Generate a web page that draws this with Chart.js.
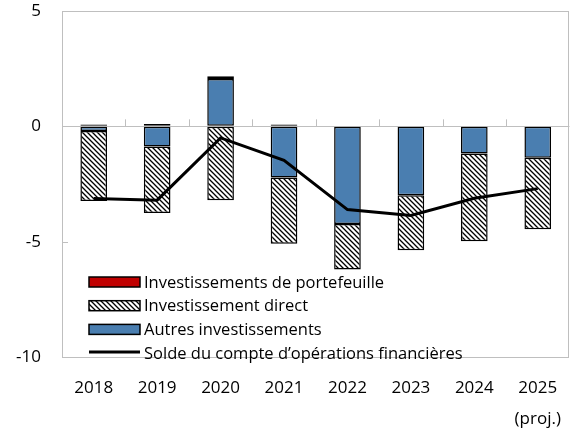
<!DOCTYPE html>
<html lang="fr">
  <head>
    <meta charset="UTF-8" />
    <title>Compte d'opérations financières</title>
    <script src="https://cdn.jsdelivr.net/npm/chart.js"></script>
    <style>
      body { margin: 0; background: #fff; }
      #wrap { width: 577px; height: 429px; }
    </style>
  </head>
  <body>
    <div id="wrap"><canvas id="chart"></canvas></div>
    <script>
      // données
      const years = ["2018", "2019", "2020", "2021", "2022", "2023", "2024", ["2025", "(proj.)"]];
      const portefeuille = [0.08, 0.1, 0.12, 0.08, 0.03, 0.03, 0.03, 0.03];
      const direct = [-3.04, -2.89, -3.2, -2.87, -1.98, -2.38, -3.8, -3.1];
      const autres = [-0.2, -0.87, 2.05, -2.22, -4.23, -2.99, -1.18, -1.36];
      const solde = [-3.13, -3.2, -0.5, -1.47, -3.61, -3.86, -3.12, -2.7];
      const yTicks = [5, 0, -5, -10];

      const FONT = "'Open Sans', 'Noto Sans', sans-serif";
      const GREY = "#bfbfbf";

      // motif hachuré pour l'investissement direct
      function hatch() {
        const c = document.createElement("canvas");
        c.width = 5;
        c.height = 5;
        const g = c.getContext("2d");
        g.fillStyle = "#fff";
        g.fillRect(0, 0, 5, 5);
        g.strokeStyle = "#000";
        g.lineWidth = 1.3;
        g.beginPath();
        g.moveTo(-1, -1); g.lineTo(6, 6);
        g.moveTo(-1, 4); g.lineTo(1, 6);
        g.moveTo(4, -1); g.lineTo(6, 1);
        g.stroke();
        return g.createPattern(c, "repeat");
      }
      const hatchPattern = hatch();

      const frame = {
        id: "frame",
        beforeDatasetsDraw(chart) {
          const { ctx, chartArea: a, scales } = chart;
          const y0 = scales.y.getPixelForValue(0);
          ctx.save();
          ctx.strokeStyle = GREY;
          ctx.lineWidth = 1;
          // petites graduations sur l'axe des catégories
          ctx.beginPath();
          for (let i = 1; i < years.length; i++) {
            const x = Math.round((scales.x.getPixelForValue(i - 1) + scales.x.getPixelForValue(i)) / 2) + 0.5;
            ctx.moveTo(x, y0);
            ctx.lineTo(x, y0 - 7);
          }
          yTicks.forEach(v => {
            const y = Math.round(scales.y.getPixelForValue(v)) + 0.5;
            ctx.moveTo(a.left, y);
            ctx.lineTo(a.left + 6, y);
          });
          ctx.stroke();
          ctx.restore();
        },
        afterDraw(chart) {
          const { ctx, chartArea: a } = chart;
          ctx.save();
          ctx.strokeStyle = GREY;
          ctx.lineWidth = 1;
          ctx.strokeRect(Math.round(a.left) + 0.5, Math.round(a.top) + 0.5, Math.round(a.right - a.left) - 1, Math.round(a.bottom - a.top));
          ctx.restore();
          // légende dans la zone du graphique : portefeuille, direct, autres, solde
          const ds = chart.data.datasets;
          const order = [2, 1, 0, 3];
          const bx = a.left + 27, bw = 51, tx = a.left + 82;
          let cy = a.top + 271;
          ctx.save();
          ctx.font = "16.5px " + FONT;
          ctx.textBaseline = "middle";
          order.forEach(i => {
            const d = ds[i];
            if (d.type === "line") {
              ctx.strokeStyle = "#000";
              ctx.lineWidth = 3;
              ctx.beginPath();
              ctx.moveTo(bx, cy - 1);
              ctx.lineTo(bx + bw, cy - 1);
              ctx.stroke();
            } else {
              ctx.fillStyle = d.backgroundColor;
              ctx.fillRect(bx, cy - 5, bw, 10);
              ctx.strokeStyle = "#000";
              ctx.lineWidth = 1.5;
              ctx.strokeRect(bx, cy - 5, bw, 10);
            }
            ctx.fillStyle = "#000";
            ctx.fillText(d.label, tx, cy + 1);
            cy += 23.7;
          });
          ctx.restore();
        }
      };

      const barCommon = {
        type: "bar",
        stack: "inv",
        borderColor: "#000",
        borderWidth: 1.5,
        borderSkipped: false,
        barPercentage: 0.42,
        categoryPercentage: 1
      };

      new Chart(document.getElementById("chart"), {
        data: {
          labels: years,
          datasets: [
            Object.assign({}, barCommon, { label: "Autres investissements", data: autres, backgroundColor: "#4a7eb0" }),
            Object.assign({}, barCommon, { label: "Investissement direct", data: direct, backgroundColor: hatchPattern }),
            Object.assign({}, barCommon, { label: "Investissements de portefeuille", data: portefeuille, backgroundColor: "#c00000" }),
            {
              type: "line",
              stack: "solde",
              label: "Solde du compte d\u2019opérations financières",
              data: solde,
              borderColor: "#000",
              borderWidth: 3,
              pointRadius: 0,
              tension: 0,
              order: -1
            }
          ]
        },
        options: {
          responsive: true,
          maintainAspectRatio: false,
          animation: false,
          layout: { padding: { top: 0, right: 1, left: 0, bottom: 0 } },
          plugins: {
            legend: { display: false },
            tooltip: { enabled: false }
          },
          scales: {
            x: {
              stacked: true,
              grid: { display: false, drawTicks: false },
              border: { display: false },
              ticks: {
                color: "#000",
                font: { family: FONT, size: 17, lineHeight: 1.8 },
                padding: 16,
                maxRotation: 0,
                autoSkip: false
              },
              afterFit(s) { s.height = 72; }
            },
            y: {
              stacked: true,
              min: -10,
              max: 5,
              afterBuildTicks(s) { s.ticks = yTicks.map(v => ({ value: v })); },
              grid: {
                drawTicks: false,
                color: c => (c.tick && c.tick.value === 0 ? GREY : "transparent"),
                lineWidth: 1
              },
              border: { display: false },
              ticks: {
                color: "#000",
                font: { family: FONT, size: 17 },
                padding: 21
              },
              afterFit(s) {
                s.width = 62;
                s.paddingTop = 11;
                s.paddingBottom = 0;
              }
            }
          }
        },
        plugins: [frame]
      });
    </script>
  </body>
</html>
